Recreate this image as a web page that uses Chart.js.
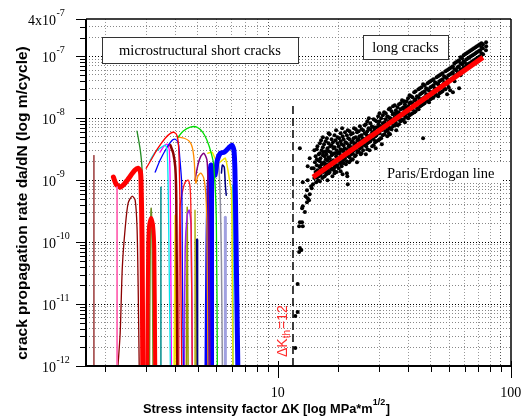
<!DOCTYPE html>
<html>
<head>
<meta charset="utf-8">
<script src="https://cdn.jsdelivr.net/npm/chart.js@4.4.1/dist/chart.umd.min.js"></script>
<style>
  body { margin: 0; background: #fff; }
  #wrap { width: 523px; height: 419px; }
</style>
</head>
<body>
<div id="wrap"><canvas id="crackChart"></canvas></div>
<script>
// ---- data (dK in MPa*m^1/2, da/dN in m/cycle) ----

// microstructural short cracks, one list per crack
const shortCrackK = [
  [1.79, 1.79],
  [2.25, 2.25],
  [2.17, 2.23, 2.32, 2.41, 2.49, 2.58, 2.68, 2.77, 2.83, 2.85, 2.88, 2.9],
  [2.27, 2.32, 2.37, 2.44, 2.51, 2.61, 2.69, 2.74, 2.77, 2.8],
  [2.74, 2.83, 2.88, 2.9, 2.94],
  [3.03, 3.06, 3.09, 3.15, 3.21, 3.25, 3.28],
  [3.1, 3.12, 3.15, 3.18, 3.21],
  [3.0, 3.18, 3.37, 3.62, 3.81, 3.96, 4.08, 4.14, 4.18, 4.22, 4.26],
  [4.08, 4.33, 4.64, 4.95, 5.25, 5.47, 5.69, 5.85, 6.0, 6.06],
  [4.12, 4.37, 4.59, 4.73, 4.82, 4.86, 4.9, 5.0, 5.15, 5.3, 5.41, 5.47, 5.52],
  [3.12, 3.28, 3.44, 3.62, 3.69, 3.73, 3.77, 3.81],
  [3.28, 3.44, 3.69, 3.88, 4.0, 4.12, 4.18, 4.26, 4.29, 4.33],
  [3.44, 3.58, 3.69, 3.77, 3.81, 3.85],
  [3.81, 3.92, 4.0, 4.04, 4.08],
  [4.14, 4.18, 4.29, 4.41, 4.55, 4.64, 4.68, 4.73],
  [4.37, 4.41, 4.5, 4.59, 4.68, 4.73],
  [4.86, 5.0, 5.15, 5.31, 5.47, 5.52, 5.58, 5.63],
  [5.47, 5.52, 5.58, 5.69, 5.8, 5.92, 6.06, 6.24, 6.49, 6.76, 7.0, 7.14, 7.21, 7.28, 7.35, 7.42],
  [5.75, 5.75],
  [5.52, 5.75, 5.92, 6.12, 6.37, 6.56, 6.76, 6.89, 6.96, 7.0, 7.07],
  [3.96, 4.0, 4.04],
  [4.46, 4.5, 4.54],
  [4.82, 4.86, 4.9],
  [4.95, 4.95],
  [6.31, 6.37, 6.49, 6.56, 6.62],
  [6.56, 6.56],
  [6.12, 6.18, 6.24, 6.31, 6.37],
  [3.47, 3.47],
  [7.07, 7.07]
];
const shortCrackRate = [
  [1e-12, 2.5e-9],
  [1e-12, 7.7e-10],
  [1.12e-9, 8.6e-10, 7.7e-10, 8.6e-10, 1.0e-9, 1.2e-9, 1.45e-9, 1.56e-9, 1.4e-9, 1.0e-9, 1.08e-10, 1e-12],
  [1e-12, 3.4e-12, 3.95e-11, 1.75e-10, 4.26e-10, 5.5e-10, 4.75e-10, 1.75e-10, 2.18e-11, 1e-12],
  [6.2e-9, 3.05e-9, 1.45e-9, 7.4e-11, 1e-12],
  [1e-12, 7.4e-11, 1.88e-10, 2.44e-10, 1.88e-10, 7.4e-11, 1e-12],
  [1e-12, 5.1e-11, 3.5e-10, 1.3e-10, 1e-12],
  [1.56e-9, 2.26e-9, 3.28e-9, 4.75e-9, 5.7e-9, 5.9e-9, 5.1e-9, 3.05e-9, 6.9e-10, 5.1e-11, 1e-12],
  [4.75e-9, 6.2e-9, 7.2e-9, 7.2e-9, 5.9e-9, 4.4e-9, 2.83e-9, 1.75e-9, 2.26e-10, 1e-12],
  [4.94e-9, 4.75e-9, 4.26e-9, 3.4e-9, 2.1e-9, 1.2e-9, 8.9e-10, 1.16e-9, 1.3e-9, 1.08e-9, 5.7e-10, 1.56e-10, 1e-12],
  [2.1e-9, 2.83e-9, 3.28e-9, 3.67e-9, 3.05e-9, 6.9e-10, 2.44e-11, 1e-12],
  [1.35e-9, 2.1e-9, 3.4e-9, 4.4e-9, 4.58e-9, 3.95e-9, 2.35e-9, 8.9e-10, 3.95e-11, 1e-12],
  [2.83e-9, 3.55e-9, 3.8e-9, 3.05e-9, 4.75e-10, 1e-12],
  [3.67e-9, 2.72e-9, 1.62e-9, 4.75e-10, 1e-12],
  [1e-12, 3.28e-10, 6.4e-10, 9.3e-10, 1.0e-9, 6.9e-10, 1.56e-10, 1e-12],
  [1e-12, 7.4e-11, 2.72e-10, 3.28e-10, 1.56e-10, 1e-12],
  [1.0e-9, 1.75e-9, 2.44e-9, 2.72e-9, 2.1e-9, 1.0e-9, 1.08e-10, 1e-12],
  [1e-12, 7.4e-11, 6.9e-10, 1.75e-9, 1.35e-9, 1.2e-9, 2.1e-9, 2.72e-9, 2.83e-9, 3.28e-9, 3.67e-9, 3.05e-9, 1.45e-9, 1.56e-10, 1.16e-11, 1e-12],
  [1e-12, 1.2e-9],
  [2.72e-9, 2.83e-9, 2.26e-9, 1.88e-9, 2.1e-9, 2.26e-9, 1.3e-9, 8.3e-10, 6.9e-10, 2.26e-10, 1e-12],
  [1e-12, 2.7e-10, 1e-12],
  [1e-12, 3.67e-10, 1e-12],
  [1e-12, 3.28e-10, 1e-12],
  [1e-12, 1.08e-10],
  [1.3e-9, 1.75e-9, 1.62e-9, 8.3e-10, 5.7e-10],
  [1e-12, 2.53e-10],
  [2.1e-9, 1.2e-9, 4.75e-10, 5.1e-11, 1e-12],
  [1e-12, 7.7e-10],
  [1e-12, 8.3e-10]
];

// long cracks [dK, da/dN]
const longCracks = [
  [13.1, 1.95e-12], [13.1, 6.4e-12], [13.4, 7.43e-12], [13.4, 2.1e-11], [13.6, 6.9e-11], [13.7, 8.0e-11],
  [13.9, 7.43e-11], [13.6, 1.81e-10], [14.0, 2.1e-10], [14.1, 1.81e-10], [13.7, 2.1e-10], [14.0, 3.53e-10],
  [14.1, 3.81e-10], [14.4, 3.05e-10], [14.7, 4.42e-10], [14.8, 5.12e-10], [15.1, 5.95e-10], [14.7, 6.9e-10],
  [15.4, 7.43e-10], [15.6, 8.62e-10], [14.5, 5.52e-10], [15.0, 4.76e-10], [15.3, 8.0e-10], [13.7, 3.28e-9],
  [15.4, 1.56e-9], [15.1, 2.26e-9], [14.8, 1.68e-9], [14.1, 9.28e-10], [14.8, 1.0e-9],
  [15.8, 3.05e-9], [16.0, 2.44e-9], [15.9, 1.95e-9], [15.7, 1.56e-9], [16.0, 1.35e-9], [15.8, 1.08e-9], [16.1, 9.28e-10],
  [16.3, 3.53e-9], [16.5, 2.63e-9], [16.4, 2.1e-9], [16.6, 1.68e-9], [16.3, 1.45e-9], [16.5, 1.16e-9], [16.4, 1.0e-9],
  [16.9, 4.42e-9], [17.0, 3.05e-9], [16.8, 2.26e-9], [17.0, 1.81e-9], [16.9, 1.56e-9], [16.8, 1.25e-9], [17.1, 1.08e-9],
  [17.4, 3.81e-9], [17.3, 2.83e-9], [17.5, 2.44e-9], [17.4, 1.95e-9], [17.6, 1.68e-9], [17.3, 1.35e-9], [17.5, 1.16e-9],
  [17.9, 4.76e-9], [18.0, 3.28e-9], [17.8, 2.63e-9], [18.0, 2.1e-9], [17.9, 1.81e-9], [18.1, 1.45e-9], [17.8, 1.25e-9], [18.0, 1.0e-9],
  [18.4, 5.52e-9], [18.5, 3.53e-9], [18.6, 2.83e-9], [18.4, 2.26e-9], [18.5, 1.95e-9], [18.7, 1.56e-9], [18.4, 1.35e-9],
  [19.0, 4.1e-9], [19.1, 3.28e-9], [18.9, 2.63e-9], [19.1, 2.1e-9], [19.0, 1.81e-9], [19.2, 1.45e-9], [18.9, 1.16e-9],
  [19.6, 6.4e-9], [19.5, 4.42e-9], [19.7, 3.05e-9], [19.6, 2.44e-9], [19.8, 2.1e-9], [19.5, 1.68e-9], [19.7, 1.35e-9],
  [20.2, 4.76e-9], [20.1, 3.53e-9], [20.3, 2.83e-9], [20.2, 2.26e-9], [20.4, 1.95e-9], [20.1, 1.56e-9],
  [20.8, 6.9e-9], [20.9, 5.12e-9], [20.7, 3.81e-9], [20.9, 3.05e-9], [20.8, 2.44e-9], [21.0, 2.1e-9], [20.7, 1.68e-9], [20.9, 1.25e-9],
  [21.4, 5.95e-9], [21.5, 4.1e-9], [21.3, 3.28e-9], [21.5, 2.63e-9], [21.4, 2.26e-9], [21.6, 1.81e-9],
  [22.0, 6.4e-9], [22.1, 4.76e-9], [22.2, 3.53e-9], [22.0, 2.83e-9], [22.1, 2.44e-9], [22.3, 1.95e-9], [21.9, 1.16e-9], [22.0, 8.62e-10],
  [22.7, 5.52e-9], [22.8, 4.1e-9], [22.6, 3.28e-9], [22.8, 2.63e-9], [22.7, 2.1e-9],
  [23.4, 6.9e-9], [23.3, 4.76e-9], [23.5, 3.81e-9], [23.4, 3.05e-9], [23.6, 2.44e-9],
  [24.1, 5.95e-9], [24.2, 4.42e-9], [24.0, 3.53e-9], [24.2, 2.83e-9], [24.1, 1.95e-9],
  [24.8, 7.43e-9], [24.7, 5.12e-9], [24.9, 4.1e-9], [24.8, 3.28e-9], [25.0, 2.63e-9],
  [25.6, 6.4e-9], [25.5, 4.76e-9], [25.7, 3.81e-9], [25.6, 3.05e-9],
  [26.3, 8.0e-9], [26.4, 5.52e-9], [26.2, 4.42e-9], [26.4, 3.53e-9], [26.3, 2.63e-9],
  [27.1, 1.0e-8], [27.0, 6.9e-9], [27.2, 5.12e-9], [27.1, 4.1e-9], [27.3, 3.05e-9],
  [27.9, 7.43e-9], [28.0, 5.95e-9], [27.8, 4.76e-9], [28.0, 3.53e-9],
  [28.8, 9.28e-9], [28.7, 6.4e-9], [28.9, 5.12e-9], [28.8, 4.1e-9], [29.0, 3.28e-9],
  [29.7, 1.08e-8], [29.8, 8.0e-9], [29.6, 5.95e-9], [29.8, 4.42e-9],
  [30.6, 1.0e-8], [30.5, 7.43e-9], [30.7, 6.4e-9], [30.6, 4.76e-9], [30.8, 3.81e-9],
  [31.5, 1.25e-8], [31.6, 8.62e-9], [31.4, 6.9e-9], [31.6, 5.52e-9],
  [32.5, 1.08e-8], [32.4, 8.0e-9], [32.6, 6.4e-9], [32.5, 5.12e-9],
  [33.4, 1.45e-8], [33.5, 1.0e-8], [33.3, 8.62e-9], [33.5, 6.9e-9], [33.4, 5.52e-9],
  [34.4, 1.56e-8], [34.3, 1.16e-8], [34.5, 9.28e-9], [34.4, 7.43e-9],
  [35.4, 1.35e-8], [35.5, 1.08e-8], [35.3, 8.62e-9], [35.5, 6.4e-9],
  [36.5, 1.68e-8], [36.4, 1.25e-8], [36.6, 1.0e-8], [36.5, 8.0e-9],
  [37.6, 1.95e-8], [37.7, 1.45e-8], [37.5, 1.16e-8], [37.7, 9.28e-9],
  [38.7, 1.68e-8], [38.6, 1.35e-8], [38.8, 1.08e-8], [38.7, 8.62e-9],
  [39.9, 2.1e-8], [40.0, 1.56e-8], [39.8, 1.25e-8], [40.0, 1.0e-8],
  [41.1, 2.26e-8], [41.0, 1.81e-8], [41.2, 1.45e-8], [41.1, 1.16e-8],
  [42.4, 2.63e-8], [42.5, 1.95e-8], [42.3, 1.56e-8], [42.5, 1.25e-8],
  [43.6, 2.26e-8], [43.5, 1.81e-8], [43.7, 1.45e-8],
  [44.9, 3.05e-8], [45.0, 2.44e-8], [44.8, 1.95e-8], [45.0, 1.56e-8],
  [46.3, 3.53e-8], [46.2, 2.63e-8], [46.4, 2.1e-8], [46.3, 1.68e-8], [46.3, 4.76e-9],
  [47.7, 3.05e-8], [47.8, 2.44e-8], [47.6, 1.95e-8],
  [49.1, 3.81e-8], [49.0, 2.83e-8], [49.2, 2.26e-8], [49.1, 1.81e-8],
  [50.6, 4.1e-8], [50.7, 3.28e-8], [50.5, 2.63e-8], [50.7, 2.1e-8],
  [52.1, 3.81e-8], [52.0, 3.05e-8], [52.2, 2.44e-8],
  [53.7, 4.76e-8], [53.8, 3.53e-8], [53.6, 2.83e-8], [53.8, 2.26e-8],
  [55.3, 5.12e-8], [55.2, 4.1e-8], [55.4, 3.28e-8], [55.3, 2.63e-8],
  [57.0, 4.76e-8], [57.1, 3.81e-8], [56.9, 3.05e-8],
  [58.7, 5.95e-8], [58.6, 4.42e-8], [58.8, 3.53e-8], [58.7, 2.44e-8],
  [60.4, 6.4e-8], [60.5, 5.12e-8], [60.3, 4.1e-8], [60.5, 2.83e-8],
  [62.2, 6.9e-8], [62.1, 5.52e-8], [62.3, 4.42e-8], [62.2, 2.63e-8],
  [64.1, 8.0e-8], [64.2, 5.95e-8], [64.0, 4.76e-8],
  [66.1, 8.62e-8], [66.0, 6.9e-8], [66.2, 5.52e-8], [66.1, 3.05e-8],
  [68.1, 9.28e-8], [68.2, 7.43e-8], [68.0, 5.95e-8],
  [70.1, 1.08e-7], [70.0, 8.0e-8], [70.2, 6.4e-8],
  [72.2, 1.16e-7], [72.3, 9.28e-8], [72.1, 7.43e-8],
  [74.4, 1.25e-7], [74.3, 1.0e-7], [74.5, 8.0e-8],
  [76.6, 1.35e-7], [76.7, 1.08e-7], [76.5, 8.62e-8],
  [78.9, 1.45e-7], [78.8, 1.16e-7], [79.0, 9.28e-8],
  [81.3, 1.56e-7], [81.4, 1.25e-7], [81.2, 1.0e-7],
  [83.7, 1.56e-7], [83.6, 1.35e-7], [83.8, 1.08e-7],
  [86.3, 1.68e-7], [86.4, 1.45e-7], [86.2, 1.25e-7],
  // second pass, between the columns above
  [16.2, 3.16e-9], [16.2, 2.18e-9], [16.2, 1.746e-9], [16.2, 1.397e-9], [16.2, 1.118e-9],
  [16.7, 3.95e-9], [16.7, 2.725e-9], [16.7, 2.025e-9], [16.7, 1.62e-9], [16.7, 1.204e-9], [16.7, 9.63e-10],
  [17.2, 4.935e-9], [17.2, 3.405e-9], [17.2, 2.53e-9], [17.2, 1.88e-9], [17.2, 1.505e-9], [17.2, 1.118e-9],
  [17.7, 4.255e-9], [17.7, 2.935e-9], [17.7, 2.18e-9], [17.7, 1.746e-9], [17.7, 1.397e-9],
  [18.2, 5.725e-9], [18.2, 3.95e-9], [18.2, 2.935e-9], [18.2, 2.35e-9], [18.2, 1.62e-9], [18.2, 1.297e-9],
  [18.75, 4.58e-9], [18.75, 3.667e-9], [18.75, 2.53e-9], [18.75, 2.025e-9], [18.75, 1.505e-9],
  [19.3, 5.315e-9], [19.3, 3.405e-9], [19.3, 2.725e-9], [19.3, 1.88e-9], [19.3, 1.62e-9], [19.3, 1.297e-9],
  [19.9, 4.935e-9], [19.9, 3.95e-9], [19.9, 2.725e-9], [19.9, 2.18e-9], [19.9, 1.746e-9],
  [20.5, 5.725e-9], [20.5, 4.255e-9], [20.5, 3.16e-9], [20.5, 2.53e-9], [20.5, 1.88e-9], [20.5, 1.397e-9],
  [21.1, 4.58e-9], [21.1, 3.667e-9], [21.1, 2.935e-9], [21.1, 2.35e-9], [21.1, 1.88e-9],
  [21.8, 5.315e-9], [21.8, 3.95e-9], [21.8, 3.16e-9], [21.8, 2.53e-9], [21.8, 2.025e-9], [21.8, 1.297e-9],
  [22.4, 6.165e-9], [22.4, 4.58e-9], [22.4, 3.667e-9], [22.4, 2.935e-9], [22.4, 2.35e-9],
  [23.1, 5.725e-9], [23.1, 4.255e-9], [23.1, 3.405e-9], [23.1, 2.725e-9], [23.1, 2.18e-9],
  [23.8, 6.64e-9], [23.8, 4.935e-9], [23.8, 3.95e-9], [23.8, 3.16e-9], [23.8, 2.53e-9],
  [24.5, 6.165e-9], [24.5, 4.58e-9], [24.5, 3.667e-9], [24.5, 2.935e-9],
  [25.2, 6.64e-9], [25.2, 5.315e-9], [25.2, 4.255e-9], [25.2, 3.405e-9], [25.2, 2.725e-9],
  [26.0, 7.7e-9], [26.0, 5.725e-9], [26.0, 4.58e-9], [26.0, 3.667e-9],
  [26.7, 8.94e-9], [26.7, 6.165e-9], [26.7, 4.935e-9], [26.7, 3.95e-9], [26.7, 3.16e-9],
  [27.5, 8.3e-9], [27.5, 6.64e-9], [27.5, 5.315e-9], [27.5, 4.255e-9],
  [28.4, 9.63e-9], [28.4, 7.15e-9], [28.4, 5.725e-9], [28.4, 4.58e-9], [28.4, 3.667e-9],
  [29.2, 8.94e-9], [29.2, 7.15e-9], [29.2, 5.315e-9], [29.2, 4.255e-9],
  [30.1, 1.204e-8], [30.1, 8.94e-9], [30.1, 7.15e-9], [30.1, 5.725e-9], [30.1, 4.58e-9],
  [31.1, 1.118e-8], [31.1, 8.3e-9], [31.1, 6.64e-9], [31.1, 5.315e-9],
  [32.0, 1.204e-8], [32.0, 9.63e-9], [32.0, 7.15e-9], [32.0, 6.165e-9],
  [33.0, 1.397e-8], [33.0, 1.038e-8], [33.0, 8.94e-9], [33.0, 7.15e-9], [33.0, 5.725e-9],
  [33.9, 1.297e-8], [33.9, 9.63e-9], [33.9, 8.3e-9], [33.9, 6.64e-9],
  [35.0, 1.62e-8], [35.0, 1.204e-8], [35.0, 1.038e-8], [35.0, 7.7e-9],
  [36.0, 1.505e-8], [36.0, 1.204e-8], [36.0, 9.63e-9], [36.0, 7.7e-9],
  [37.1, 1.746e-8], [37.1, 1.397e-8], [37.1, 1.118e-8], [37.1, 8.94e-9],
  [38.2, 1.88e-8], [38.2, 1.505e-8], [38.2, 1.204e-8], [38.2, 9.63e-9],
  [39.3, 1.88e-8], [39.3, 1.505e-8], [39.3, 1.204e-8], [39.3, 1.038e-8],
  [40.5, 2.35e-8], [40.5, 1.746e-8], [40.5, 1.397e-8], [40.5, 1.118e-8],
  [41.7, 2.18e-8], [41.7, 1.746e-8], [41.7, 1.397e-8], [41.7, 1.204e-8],
  [43.0, 2.725e-8], [43.0, 2.025e-8], [43.0, 1.62e-8], [43.0, 1.297e-8],
  [44.3, 2.935e-8], [44.3, 2.18e-8], [44.3, 1.746e-8], [44.3, 1.397e-8],
  [45.6, 3.16e-8], [45.6, 2.53e-8], [45.6, 2.025e-8], [45.6, 1.62e-8],
  [47.0, 3.405e-8], [47.0, 2.725e-8], [47.0, 2.18e-8], [47.0, 1.746e-8],
  [48.4, 3.667e-8], [48.4, 2.935e-8], [48.4, 2.35e-8], [48.4, 1.88e-8],
  [49.8, 3.95e-8], [49.8, 3.16e-8], [49.8, 2.53e-8], [49.8, 2.025e-8],
  [51.3, 4.255e-8], [51.3, 3.405e-8], [51.3, 2.725e-8], [51.3, 2.18e-8],
  [52.9, 4.58e-8], [52.9, 3.667e-8], [52.9, 2.935e-8], [52.9, 2.35e-8],
  [54.5, 4.935e-8], [54.5, 3.95e-8], [54.5, 3.16e-8], [54.5, 2.53e-8],
  [56.1, 5.315e-8], [56.1, 4.255e-8], [56.1, 3.405e-8], [56.1, 2.725e-8],
  [57.8, 5.725e-8], [57.8, 4.58e-8], [57.8, 3.667e-8], [57.8, 2.935e-8],
  [59.6, 6.165e-8], [59.6, 4.935e-8], [59.6, 3.95e-8], [59.6, 3.16e-8],
  [61.4, 6.64e-8], [61.4, 5.315e-8], [61.4, 4.255e-8],
  [63.2, 7.7e-8], [63.2, 6.165e-8], [63.2, 4.935e-8], [63.2, 3.95e-8],
  [65.1, 8.3e-8], [65.1, 6.64e-8], [65.1, 5.315e-8],
  [67.1, 9.63e-8], [67.1, 7.7e-8], [67.1, 6.165e-8], [67.1, 4.935e-8],
  [69.1, 1.038e-7], [69.1, 8.3e-8], [69.1, 6.64e-8],
  [71.2, 1.118e-7], [71.2, 8.94e-8], [71.2, 7.15e-8],
  [73.3, 1.204e-7], [73.3, 9.63e-8], [73.3, 7.7e-8],
  [75.5, 1.297e-7], [75.5, 1.038e-7], [75.5, 8.3e-8],
  [77.8, 1.397e-7], [77.8, 1.118e-7], [77.8, 8.94e-8],
  [80.1, 1.505e-7], [80.1, 1.204e-7], [80.1, 9.63e-8],
  [82.5, 1.62e-7], [82.5, 1.397e-7], [82.5, 1.118e-7]
];

// Paris/Erdogan fit and the threshold line
const parisK = [15.6, 83.7];
const parisRate = [1.12e-9, 9.6e-8];
const thresholdK = [12.8, 12.8];
const thresholdRate = [1e-12, 1.62e-8];

// axes
const xMin = 1.655, xMax = 110.4;
const yMin = 1e-12, yMax = 4e-7;
const xGridValues = [2, 3, 4, 5, 6, 7, 8, 9, 10, 20, 30, 40, 50, 60, 70, 80, 90, 100];
// the printed "10" and "100" sit ~10px right of the grid decades in the source figure
const xLabelValues = [11, 110];
const xLabelTexts = ['10', '100'];
const yGridValues = [];
[-12, -11, -10, -9, -8, -7].forEach(e => {
  [1, 2, 3, 4, 5, 6, 7, 8, 9].forEach(m => {
    const v = m * Math.pow(10, e);
    if (v < yMax) yGridValues.push(v);
  });
});
const yLabelValues = [1e-12, 1e-11, 1e-10, 1e-9, 1e-8, 1e-7, 4e-7];
const yLabelBases = ['10', '10', '10', '10', '10', '10', '4x10'];
const yLabelExps = ['-12', '-11', '-10', '-9', '-8', '-7', '-7'];

// ---- styles ----
const crackColors = [
  '#8B1A1A', '#FF69B4', '#FF0000', '#8B0000', '#228B22', '#FF0000', '#6B8E23', '#FF0000',
  '#00DD00', '#FF8C00', '#00E5EE', '#0000FF', '#FF00FF', '#8B0000', '#FF2020', '#A020F0',
  '#800080', '#0000FF', '#0000FF', '#F5E600', '#F5E600', '#9A9A00', '#B5B520', '#000080',
  '#000080', '#A0A0E0', '#9090A0', '#008B8B', '#00CED1'
];
const crackWidths = [
  1.3, 1.8, 5, 1.3, 1.3, 4, 1.5, 1.3,
  1.3, 1.3, 1.3, 1.3, 1.3, 2.5, 1.3, 1.5,
  1.5, 5, 4, 1.5, 1.8, 1.5, 1.5, 3,
  1.5, 3, 1.5, 1.5, 1.5
];

const SERIF = '"Liberation Serif", "Times New Roman", serif';
const SANS = '"Liberation Sans", Arial, sans-serif';

function isDecade(v) {
  const l = Math.log10(v);
  return Math.abs(l - Math.round(l)) < 1e-6;
}

const datasets = [];
datasets.push({
  data: parisK.map((k, i) => ({x: k, y: parisRate[i]})),
  showLine: true, borderColor: '#FF0000', borderWidth: 5, pointRadius: 0
});
datasets.push({
  data: longCracks.map(p => ({x: p[0], y: p[1]})),
  showLine: false, pointRadius: 2, pointBorderWidth: 0, pointBackgroundColor: '#000'
});
datasets.push({
  data: thresholdK.map((k, i) => ({x: k, y: thresholdRate[i]})),
  showLine: true, borderColor: '#000', borderWidth: 1.5, borderDash: [8, 4], pointRadius: 0
});
shortCrackK.forEach((ks, i) => {
  datasets.push({
    data: ks.map((k, j) => ({x: k, y: shortCrackRate[i][j]})),
    showLine: true,
    borderColor: crackColors[i],
    borderWidth: crackWidths[i],
    borderCapStyle: 'round',
    borderJoinStyle: 'round',
    tension: ks.length > 3 ? 0.25 : 0,
    pointRadius: 0
  });
});

function drawPower(ctx, base, exp, xJoin, yMid) {
  ctx.textAlign = 'right';
  ctx.font = '14px ' + SERIF;
  ctx.fillText(base, xJoin, yMid + 6);
  ctx.textAlign = 'left';
  ctx.font = '10px ' + SERIF;
  ctx.fillText(exp, xJoin + 0.5, yMid - 3);
}

const decorations = {
  id: 'decorations',
  beforeDraw(chart) {
    const {ctx, width, height} = chart;
    ctx.save();
    ctx.fillStyle = '#fff';
    ctx.fillRect(0, 0, width, height);
    ctx.restore();
  },
  afterDraw(chart) {
    const {ctx, chartArea: a} = chart;
    const xs = chart.scales.x, ys = chart.scales.y;
    ctx.save();
    ctx.strokeStyle = '#000';
    ctx.fillStyle = '#000';
    ctx.lineWidth = 1;
    const seg = (x1, y1, x2, y2) => { ctx.beginPath(); ctx.moveTo(x1, y1); ctx.lineTo(x2, y2); ctx.stroke(); };

    // tick marks
    yGridValues.forEach(v => {
      const py = Math.round(ys.getPixelForValue(v)) + 0.5;
      seg(a.left - (isDecade(v) ? 10 : 6), py, a.left, py);
    });
    seg(a.left - 10, a.top + 0.5, a.left, a.top + 0.5);
    xGridValues.forEach(v => {
      const px = Math.round(xs.getPixelForValue(v)) + 0.5;
      seg(px, a.bottom, px, a.bottom + 6);
    });
    xLabelValues.forEach(v => {
      const px = Math.round(xs.getPixelForValue(v)) + 0.5;
      seg(px, a.bottom - 5, px, a.bottom + 12);
    });

    // frame
    ctx.lineWidth = 1.5;
    seg(a.left, a.top, a.right, a.top);
    seg(a.right, a.top, a.right, a.bottom);
    ctx.lineWidth = 2;
    seg(a.left, a.top, a.left, a.bottom + 1);
    seg(a.left - 1, a.bottom, a.right + 1, a.bottom);

    // tick labels
    ctx.textBaseline = 'alphabetic';
    yLabelValues.forEach((v, i) => {
      drawPower(ctx, yLabelBases[i], yLabelExps[i], 56, ys.getPixelForValue(v));
    });
    ctx.font = '14px ' + SERIF;
    ctx.textAlign = 'center';
    xLabelValues.forEach((v, i) => {
      ctx.fillText(xLabelTexts[i], xs.getPixelForValue(v), 397);
    });

    // axis titles
    ctx.save();
    ctx.translate(27, 203);
    ctx.rotate(-Math.PI / 2);
    ctx.font = 'bold 15.5px ' + SANS;
    ctx.textAlign = 'center';
    ctx.fillText('crack propagation rate da/dN (log m/cycle)', 0, 0);
    ctx.restore();

    ctx.textAlign = 'left';
    const t1 = 'Stress intensity factor \u0394K [log MPa*m';
    ctx.font = 'bold 12.8px ' + SANS;
    let tx = 143;
    ctx.fillText(t1, tx, 413);
    tx += ctx.measureText(t1).width;
    ctx.font = 'bold 9px ' + SANS;
    ctx.fillText('1/2', tx, 405);
    tx += ctx.measureText('1/2').width;
    ctx.font = 'bold 12.8px ' + SANS;
    ctx.fillText(']', tx + 0.5, 413);

    // annotation boxes
    ctx.lineWidth = 1;
    ctx.strokeStyle = '#333';
    ctx.fillStyle = '#fff';
    ctx.fillRect(102, 37, 196, 26);
    ctx.strokeRect(102.5, 37.5, 196, 26);
    ctx.fillRect(363, 35, 85, 24);
    ctx.strokeRect(363.5, 35.5, 85, 24);
    ctx.fillRect(384, 163, 117, 19);
    ctx.fillStyle = '#000';
    ctx.font = '14.5px ' + SERIF;
    ctx.textAlign = 'center';
    ctx.fillText('microstructural short cracks', 200, 55);
    ctx.fillText('long cracks', 405.5, 52);
    ctx.textAlign = 'left';
    ctx.fillText('Paris/Erdogan line', 387, 178);

    // threshold label, rotated
    ctx.save();
    ctx.translate(287, 357);
    ctx.rotate(-Math.PI / 2);
    ctx.fillStyle = '#FF2A2A';
    ctx.font = '14px ' + SANS;
    ctx.fillText('\u0394K', 0, 0);
    let w = ctx.measureText('\u0394K').width;
    ctx.font = '10px ' + SANS;
    ctx.fillText('th', w, 3);
    w += ctx.measureText('th').width;
    ctx.font = '14px ' + SANS;
    ctx.fillText('=12', w + 1, 0);
    ctx.restore();

    ctx.restore();
  }
};

new Chart(document.getElementById('crackChart'), {
  type: 'scatter',
  data: { datasets: datasets },
  options: {
    responsive: true,
    maintainAspectRatio: false,
    animation: false,
    events: [],
    layout: { padding: { left: 86, right: 12, top: 19, bottom: 53 } },
    plugins: { legend: { display: false }, tooltip: { enabled: false } },
    scales: {
      x: {
        type: 'logarithmic',
        min: xMin,
        max: xMax,
        afterBuildTicks: axis => { axis.ticks = xGridValues.map(v => ({value: v})); },
        ticks: { display: false },
        grid: {
          drawTicks: false,
          lineWidth: 1,
          color: c => isDecade(c.tick.value) ? '#555' : '#999'
        },
        border: { display: false, dash: [1, 2] }
      },
      y: {
        type: 'logarithmic',
        min: yMin,
        max: yMax,
        afterBuildTicks: axis => { axis.ticks = yGridValues.map(v => ({value: v})); },
        ticks: { display: false },
        grid: {
          drawTicks: false,
          lineWidth: 1,
          color: c => isDecade(c.tick.value) ? '#000' : '#888'
        },
        border: { display: false, dash: [1, 2] }
      }
    }
  },
  plugins: [decorations]
});
</script>
</body>
</html>
